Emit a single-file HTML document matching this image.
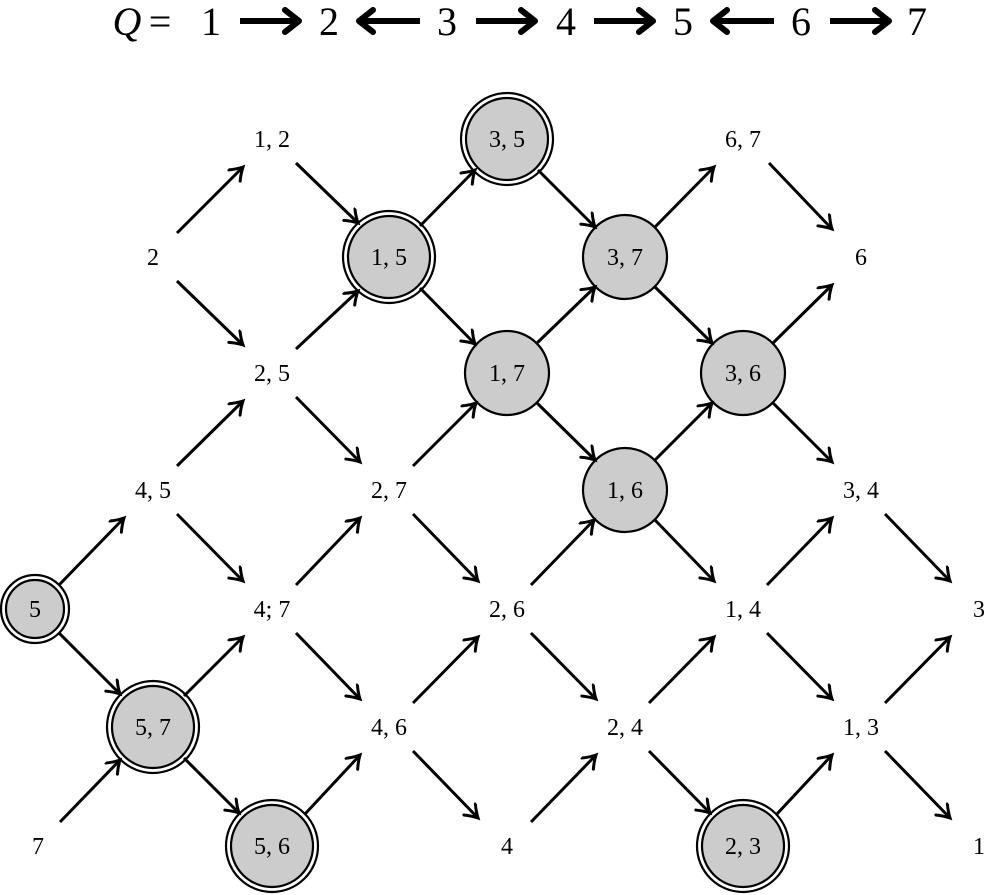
<!DOCTYPE html>
<html><head><meta charset="utf-8"><style>
html,body{margin:0;padding:0;background:#fff;}
svg{display:block;}
text{font-family:"Liberation Serif",serif;}
</style></head><body>
<svg width="986" height="895" viewBox="0 0 986 895" xmlns="http://www.w3.org/2000/svg">
<defs>
<marker id="a" markerUnits="userSpaceOnUse" markerWidth="20" markerHeight="20" refX="14" refY="9" orient="auto">
<path d="M2,1 Q8,6 14,9 Q8,12 2,17" fill="none" stroke="#000" stroke-width="3" stroke-linecap="round"/>
</marker>
<marker id="b" markerUnits="userSpaceOnUse" markerWidth="30" markerHeight="30" refX="20" refY="14" orient="auto">
<path d="M6,3 L20,14 L6,25" fill="none" stroke="#000" stroke-width="6" stroke-linecap="round" stroke-linejoin="round"/>
</marker>
</defs>
<g font-size="40" text-anchor="middle">
<text x="127" y="35" font-style="italic">Q</text>
<text x="160" y="35">=</text>
<text x="211" y="35">1</text>
<text x="329" y="35">2</text>
<text x="447" y="35">3</text>
<text x="566" y="35">4</text>
<text x="683" y="35">5</text>
<text x="801" y="35">6</text>
<text x="917" y="35">7</text>
</g>
<g stroke="#000" stroke-width="6" marker-end="url(#b)">
<line x1="240" y1="21" x2="299" y2="21"/>
<line x1="420" y1="21" x2="359" y2="21"/>
<line x1="476" y1="21" x2="535" y2="21"/>
<line x1="594" y1="21" x2="653" y2="21"/>
<line x1="774" y1="21" x2="713" y2="21"/>
<line x1="830" y1="21" x2="889" y2="21"/>
</g>
<g stroke="#000" stroke-width="2.2">
<circle cx="507" cy="139" r="46" fill="#fff"/><circle cx="507" cy="139" r="41" fill="#ccc"/>
<circle cx="389" cy="257" r="46" fill="#fff"/><circle cx="389" cy="257" r="41" fill="#ccc"/>
<circle cx="153" cy="727" r="46" fill="#fff"/><circle cx="153" cy="727" r="41" fill="#ccc"/>
<circle cx="272" cy="846" r="46" fill="#fff"/><circle cx="272" cy="846" r="41" fill="#ccc"/>
<circle cx="743" cy="846" r="46" fill="#fff"/><circle cx="743" cy="846" r="41" fill="#ccc"/>
<circle cx="35" cy="609" r="34" fill="#fff"/><circle cx="35" cy="609" r="29" fill="#ccc"/>
<circle cx="625" cy="257" r="42" fill="#ccc"/>
<circle cx="507" cy="373" r="42" fill="#ccc"/>
<circle cx="743" cy="373" r="42" fill="#ccc"/>
<circle cx="625" cy="490" r="42" fill="#ccc"/>
</g>
<g stroke="#000" stroke-width="3" marker-end="url(#a)">
<line x1="177" y1="233" x2="243" y2="167"/>
<line x1="177" y1="281" x2="243" y2="345"/>
<line x1="296" y1="163" x2="358" y2="223"/>
<line x1="296" y1="349" x2="358" y2="291"/>
<line x1="420" y1="226" x2="475" y2="170"/>
<line x1="420" y1="288" x2="475" y2="344"/>
<line x1="538" y1="170" x2="595" y2="227"/>
<line x1="536" y1="344" x2="595" y2="287"/>
<line x1="654" y1="228" x2="714" y2="167"/>
<line x1="654" y1="286" x2="712" y2="343"/>
<line x1="769" y1="163" x2="832" y2="229"/>
<line x1="772" y1="344" x2="832" y2="285"/>
<line x1="536" y1="402" x2="595" y2="460"/>
<line x1="654" y1="461" x2="712" y2="403"/>
<line x1="772" y1="402" x2="832" y2="462"/>
<line x1="296" y1="397" x2="360" y2="462"/>
<line x1="177" y1="466" x2="243" y2="401"/>
<line x1="177" y1="514" x2="243" y2="581"/>
<line x1="413" y1="466" x2="476" y2="403"/>
<line x1="413" y1="514" x2="478" y2="581"/>
<line x1="296" y1="585" x2="360" y2="518"/>
<line x1="296" y1="633" x2="360" y2="699"/>
<line x1="531" y1="585" x2="594" y2="520"/>
<line x1="531" y1="633" x2="596" y2="699"/>
<line x1="654" y1="519" x2="714" y2="581"/>
<line x1="767" y1="585" x2="832" y2="518"/>
<line x1="885" y1="514" x2="950" y2="581"/>
<line x1="767" y1="633" x2="832" y2="699"/>
<line x1="649" y1="703" x2="714" y2="637"/>
<line x1="649" y1="751" x2="710" y2="813"/>
<line x1="885" y1="703" x2="950" y2="637"/>
<line x1="885" y1="751" x2="950" y2="818"/>
<line x1="776" y1="815" x2="832" y2="755"/>
<line x1="413" y1="703" x2="478" y2="637"/>
<line x1="413" y1="751" x2="478" y2="818"/>
<line x1="531" y1="822" x2="596" y2="755"/>
<line x1="305" y1="814" x2="360" y2="755"/>
<line x1="184" y1="758" x2="239" y2="813"/>
<line x1="184" y1="696" x2="243" y2="637"/>
<line x1="60" y1="822" x2="120" y2="760"/>
<line x1="59" y1="633" x2="120" y2="694"/>
<line x1="59" y1="585" x2="124" y2="518"/>
</g>
<g font-size="24" text-anchor="middle">
<text x="272" y="147">1, 2</text>
<text x="507" y="147">3, 5</text>
<text x="743" y="147">6, 7</text>
<text x="153" y="265">2</text>
<text x="389" y="265">1, 5</text>
<text x="625" y="265">3, 7</text>
<text x="861" y="265">6</text>
<text x="272" y="381">2, 5</text>
<text x="507" y="381">1, 7</text>
<text x="743" y="381">3, 6</text>
<text x="153" y="498">4, 5</text>
<text x="389" y="498">2, 7</text>
<text x="625" y="498">1, 6</text>
<text x="861" y="498">3, 4</text>
<text x="35" y="617">5</text>
<text x="272" y="617">4; 7</text>
<text x="507" y="617">2, 6</text>
<text x="743" y="617">1, 4</text>
<text x="979" y="617">3</text>
<text x="153" y="735">5, 7</text>
<text x="389" y="735">4, 6</text>
<text x="625" y="735">2, 4</text>
<text x="861" y="735">1, 3</text>
<text x="38" y="854">7</text>
<text x="272" y="854">5, 6</text>
<text x="507" y="854">4</text>
<text x="743" y="854">2, 3</text>
<text x="979" y="854">1</text>
</g>
</svg>
</body></html>
